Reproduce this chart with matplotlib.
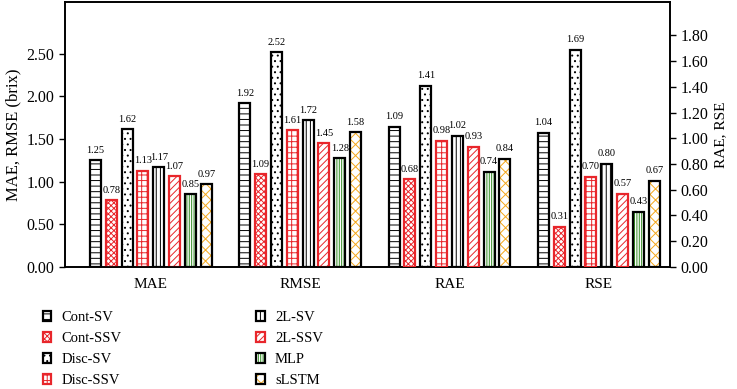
import numpy as np
import matplotlib.pyplot as plt
from matplotlib.legend_handler import HandlerTuple

plt.rcParams['font.family'] = ['Liberation Serif', 'DejaVu Serif']
plt.rcParams['hatch.linewidth'] = 0.7

# data
metrics = ['MAE', 'RMSE', 'RAE', 'RSE']
models = ['Cont-SV', 'Cont-SSV', 'Disc-SV', 'Disc-SSV', '2L-SV', '2L-SSV', 'MLP', 'sLSTM']
mae = [1.25, 0.78, 1.62, 1.13, 1.17, 1.07, 0.85, 0.97]
rmse = [1.92, 1.09, 2.52, 1.61, 1.72, 1.45, 1.28, 1.58]
rae = [1.09, 0.68, 1.41, 0.98, 1.02, 0.93, 0.74, 0.84]
rse = [1.04, 0.31, 1.69, 0.70, 0.80, 0.57, 0.43, 0.67]

# styles: hatch, hatch colour, edge colour
hatches = ['---', 'xxxxxx', '...', '+++', '||||', '/////', '|||||||', 'xxx']
hcolors = ['black', '#e8262b', 'black', '#e8262b', 'black', '#e8262b', '#2f8a1f', '#f5a81c']
ecolors = ['black', '#e8262b', 'black', '#e8262b', 'black', '#e8262b', 'black', 'black']

fig = plt.figure(figsize=(7.37, 3.89), dpi=100)
ax = fig.add_axes([0.088, 0.314, 0.821, 0.681])
ax2 = ax.twinx()

x = np.arange(len(metrics))
step = 0.106
w = 0.074
offsets = (np.arange(len(models)) - 3.5) * step

handles = []
for i, m in enumerate(models):
    for a, vals, xs in [(ax, [mae[i], rmse[i]], x[:2]), (ax2, [rae[i], rse[i]], x[2:])]:
        hb = a.bar(xs + offsets[i], vals, w, color='white', hatch=hatches[i],
                   edgecolor=hcolors[i], linewidth=0, zorder=2)
        eb = a.bar(xs + offsets[i], vals, w, fill=False, edgecolor=ecolors[i],
                   linewidth=1.6, zorder=3)
        for xx, v in zip(xs, vals):
            a.text(xx + offsets[i], v + (0.06 if a is ax else 0.045), '%.2f' % v,
                   ha='center', va='bottom', fontsize=7.5)
    handles.append((hb[0], eb[0]))

ax.set_xlim(-0.576, 3.476)
ax.set_ylim(0, 3.11)
ax2.set_ylim(0, 2.06)
ax.set_yticks(np.arange(0, 2.51, 0.5))
ax2.set_yticks(np.arange(0, 1.81, 0.2))
ax.set_yticklabels(['%.2f' % t for t in np.arange(0, 2.51, 0.5)], fontsize=11.5)
ax2.set_yticklabels(['%.2f' % t for t in np.arange(0, 1.81, 0.2)], fontsize=11.5)
ax.set_xticks(x)
ax.set_xticklabels(metrics, fontsize=11)
ax.tick_params(axis='x', length=0, pad=8)
ax.tick_params(axis='y', direction='out', length=4, width=1)
ax2.tick_params(axis='y', direction='out', length=4, width=1)
ax.set_ylabel('MAE, RMSE (brix)', fontsize=12)
ax2.set_ylabel('RAE, RSE', fontsize=11)
for a in (ax, ax2):
    for s in a.spines.values():
        s.set_linewidth(1.2)

fig.legend(handles, models, handler_map={tuple: HandlerTuple(ndivide=1, pad=0)},
           loc='upper left', bbox_to_anchor=(0.05, 0.215), ncol=2, frameon=False,
           fontsize=10.5, handlelength=0.6, handleheight=0.6, handletextpad=0.7,
           columnspacing=9.2, labelspacing=0.55, borderaxespad=0)

fig.savefig('out.png', dpi=100)
